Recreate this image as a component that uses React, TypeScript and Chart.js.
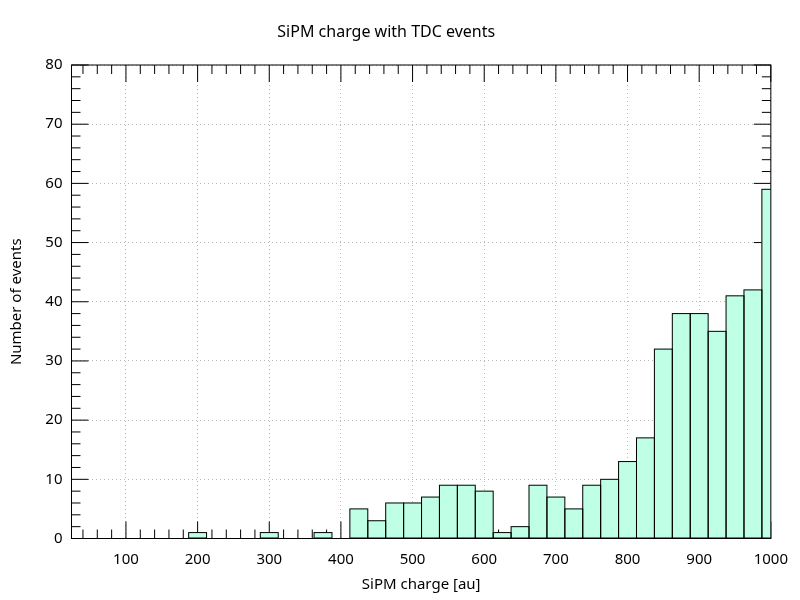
import { useEffect, useRef } from 'react';
import { Chart, registerables } from 'chart.js';

Chart.register(...registerables);

// bin centres of the histogram (width 25 au)
const binCenters = [
  25, 50, 75, 100, 125, 150, 175, 200, 225, 250,
  275, 300, 325, 350, 375, 400, 425, 450, 475, 500,
  525, 550, 575, 600, 625, 650, 675, 700, 725, 750,
  775, 800, 825, 850, 875, 900, 925, 950, 975, 1000,
];
const counts = [
  0, 0, 0, 0, 0, 0, 0, 1, 0, 0,
  0, 1, 0, 0, 1, 0, 5, 3, 6, 6,
  7, 9, 9, 8, 1, 2, 9, 7, 5, 9,
  10, 13, 17, 32, 38, 38, 35, 41, 42, 59,
];
const xMin = 24;
const xMax = 1000;
const yMax = 80;

const FONT = 'Noto Sans';
const GRID = 'rgba(170,170,170,0.85)';

// gnuplot-like inward ticks (behind the boxes), frame and box outlines
const framePlugin = {
  id: 'frame',
  beforeDatasetsDraw(chart: Chart) {
    const { ctx, chartArea: a, scales } = chart;
    const x = scales.x;
    const y = scales.y;
    ctx.save();
    ctx.strokeStyle = '#000';
    ctx.lineWidth = 1;
    ctx.beginPath();
    for (let v = Math.ceil(xMin / 20) * 20; v <= xMax; v += 20) {
      const px = x.getPixelForValue(v);
      const len = v % 100 === 0 ? 17 : 9;
      ctx.moveTo(px, a.bottom);
      ctx.lineTo(px, a.bottom - len);
      ctx.moveTo(px, a.top);
      ctx.lineTo(px, a.top + len);
    }
    for (let v = 0; v <= yMax; v += 2) {
      const py = y.getPixelForValue(v);
      const len = v % 10 === 0 ? 17 : 9;
      ctx.moveTo(a.left, py);
      ctx.lineTo(a.left + len, py);
      ctx.moveTo(a.right, py);
      ctx.lineTo(a.right - len, py);
    }
    ctx.stroke();
    ctx.restore();
  },
  afterDatasetsDraw(chart: Chart) {
    const { ctx, chartArea: a } = chart;
    ctx.save();
    ctx.beginPath();
    ctx.rect(a.left, a.top, a.right - a.left, a.bottom - a.top);
    ctx.clip();
    ctx.strokeStyle = '#000';
    ctx.lineWidth = 1;
    chart.getDatasetMeta(0).data.forEach((bar: any) => {
      const p = bar.getProps(['x', 'y', 'base', 'width'], true);
      if (Math.abs(p.base - p.y) < 0.5) return;
      ctx.strokeRect(p.x - p.width / 2, p.y, p.width, p.base - p.y);
    });
    ctx.restore();

    ctx.save();
    ctx.strokeStyle = '#000';
    ctx.lineWidth = 1;
    ctx.strokeRect(a.left, a.top, a.right - a.left, a.bottom - a.top);
    ctx.restore();
  },
};

const Histogram = () => {
  const canvasRef = useRef<HTMLCanvasElement>(null);
  const chartRef = useRef<Chart | null>(null);

  useEffect(() => {
    if (!canvasRef.current) return;
    if (chartRef.current) chartRef.current.destroy();

    chartRef.current = new Chart(canvasRef.current, {
      type: 'bar',
      data: {
        datasets: [
          {
            label: 'events',
            data: binCenters.map((c, i) => ({ x: c, y: counts[i] })),
            backgroundColor: '#bfffe5',
            borderWidth: 0,
            barPercentage: 1,
            categoryPercentage: 1,
          },
        ],
      },
      options: {
        animation: false,
        responsive: true,
        maintainAspectRatio: false,
        layout: { padding: { left: 0, right: 27.5, top: 0, bottom: 0 } },
        plugins: {
          legend: { display: false },
          tooltip: { enabled: false },
          title: {
            display: true,
            text: 'SiPM charge with TDC events',
            color: '#000',
            font: { family: FONT, size: 16, weight: 'normal' },
            padding: { top: 23, bottom: 22.8 },
          },
        },
        scales: {
          x: {
            type: 'linear',
            min: xMin,
            max: xMax,
            offset: false,
            ticks: {
              stepSize: 100,
              includeBounds: false,
              color: '#000',
              font: { family: FONT, size: 15 },
              padding: 12,
              maxRotation: 0,
              callback: (v: any) => String(v),
            },
            grid: {
              offset: false,
              drawTicks: false,
              color: GRID,
              lineWidth: 1,
            },
            border: { display: false, dash: [1, 3] },
            title: {
              display: true,
              text: 'SiPM charge [au]',
              color: '#000',
              font: { family: FONT, size: 15 },
              padding: { top: 0, bottom: 6 },
            },
            afterFit: (scale: any) => {
              scale.height = 61.5;
            },
          },
          y: {
            min: 0,
            max: yMax,
            ticks: {
              stepSize: 10,
              color: '#000',
              font: { family: FONT, size: 15 },
              padding: 9,
            },
            grid: {
              drawTicks: false,
              color: GRID,
              lineWidth: 1,
            },
            border: { display: false, dash: [1, 3] },
            title: {
              display: true,
              text: 'Number of events',
              color: '#000',
              font: { family: FONT, size: 15 },
              padding: { top: 8, bottom: 0 },
            },
            afterFit: (scale: any) => {
              scale.width = 71.5;
            },
          },
        },
      },
      plugins: [framePlugin],
    });

    return () => {
      if (chartRef.current) {
        chartRef.current.destroy();
        chartRef.current = null;
      }
    };
  }, []);

  return (
    <div style={{ position: 'fixed', left: 0, top: 0, width: 800, height: 600, background: '#fff' }}>
      <canvas ref={canvasRef} />
    </div>
  );
};

export default function App() {
  return <Histogram />;
}
